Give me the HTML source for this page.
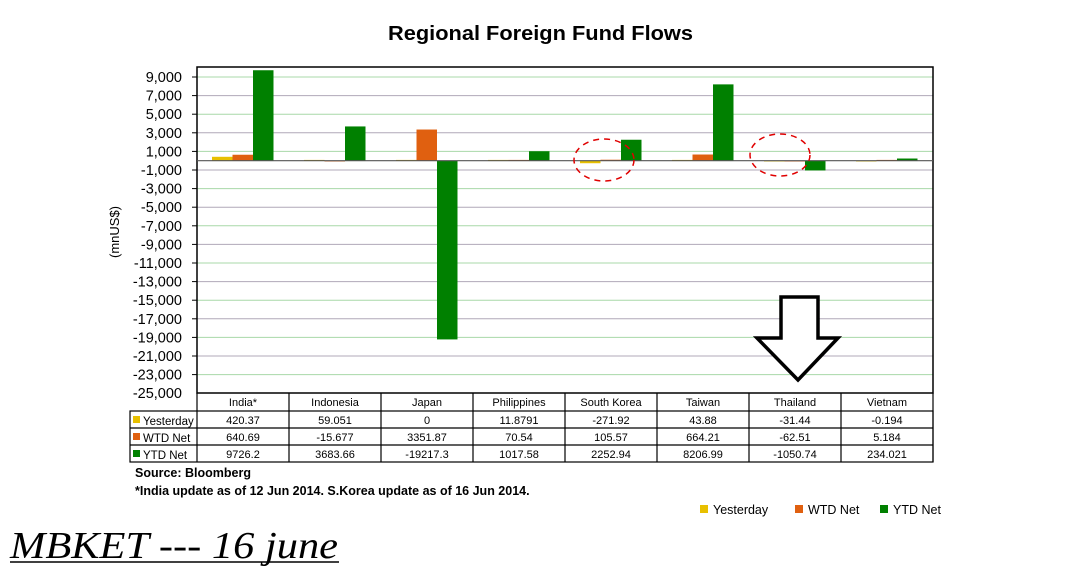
<!DOCTYPE html>
<html><head><meta charset="utf-8"><style>
body{margin:0;background:#fff;width:1078px;height:571px;overflow:hidden;font-family:"Liberation Sans",Arial,sans-serif}
</style></head><body>
<svg id="s" width="1078" height="571" xmlns="http://www.w3.org/2000/svg" font-family="Liberation Sans, Arial, sans-serif">
<text x="388" y="40" font-size="20" font-weight="bold" textLength="305" lengthAdjust="spacingAndGlyphs">Regional Foreign Fund Flows</text>
<g id="grid"></g>
<rect x="197" y="67" width="736" height="326" fill="none" stroke="#000" stroke-width="1.5"/>
<g id="bars"></g>
<line x1="197" y1="160.7" x2="933" y2="160.7" stroke="#555" stroke-width="1.2"/>
<g font-size="14.5" text-anchor="end" fill="#000">
<text x="182" y="82">9,000</text><text x="182" y="100.6">7,000</text><text x="182" y="119.2">5,000</text><text x="182" y="137.8">3,000</text><text x="182" y="156.4">1,000</text><text x="182" y="175">-1,000</text><text x="182" y="193.6">-3,000</text><text x="182" y="212.2">-5,000</text><text x="182" y="230.8">-7,000</text><text x="182" y="249.4">-9,000</text><text x="182" y="268">-11,000</text><text x="182" y="286.6">-13,000</text><text x="182" y="305.2">-15,000</text><text x="182" y="323.8">-17,000</text><text x="182" y="342.4">-19,000</text><text x="182" y="361">-21,000</text><text x="182" y="379.6">-23,000</text><text x="182" y="398.2">-25,000</text>
</g>
<text transform="translate(119,232) rotate(-90)" font-size="13" text-anchor="middle">(mnUS$)</text>
<g stroke="#000" stroke-width="1.2" fill="none">
<rect x="130" y="411" width="803" height="51"/>
<line x1="197" y1="393" x2="197" y2="462"/>
<line x1="130" y1="428" x2="933" y2="428"/><line x1="130" y1="445" x2="933" y2="445"/>
<line x1="289" y1="393" x2="289" y2="462"/><line x1="381" y1="393" x2="381" y2="462"/><line x1="473" y1="393" x2="473" y2="462"/><line x1="565" y1="393" x2="565" y2="462"/><line x1="657" y1="393" x2="657" y2="462"/><line x1="749" y1="393" x2="749" y2="462"/><line x1="841" y1="393" x2="841" y2="462"/><line x1="933" y1="393" x2="933" y2="462"/>
</g>
<g font-size="11" text-anchor="middle">
<text x="243" y="406">India*</text><text x="335" y="406">Indonesia</text><text x="427" y="406">Japan</text><text x="519" y="406">Philippines</text><text x="611" y="406">South Korea</text><text x="703" y="406">Taiwan</text><text x="795" y="406">Thailand</text><text x="887" y="406">Vietnam</text>
<text x="243" y="424">420.37</text><text x="335" y="424">59.051</text><text x="427" y="424">0</text><text x="519" y="424">11.8791</text><text x="611" y="424">-271.92</text><text x="703" y="424">43.88</text><text x="795" y="424">-31.44</text><text x="887" y="424">-0.194</text>
<text x="243" y="441">640.69</text><text x="335" y="441">-15.677</text><text x="427" y="441">3351.87</text><text x="519" y="441">70.54</text><text x="611" y="441">105.57</text><text x="703" y="441">664.21</text><text x="795" y="441">-62.51</text><text x="887" y="441">5.184</text>
<text x="243" y="458">9726.2</text><text x="335" y="458">3683.66</text><text x="427" y="458">-19217.3</text><text x="519" y="458">1017.58</text><text x="611" y="458">2252.94</text><text x="703" y="458">8206.99</text><text x="795" y="458">-1050.74</text><text x="887" y="458">234.021</text>
</g>
<g font-size="11.5">
<rect x="133" y="416" width="7" height="7" fill="#e8c000"/><text x="143" y="425">Yesterday</text>
<rect x="133" y="433" width="7" height="7" fill="#e06010"/><text x="143" y="442">WTD Net</text>
<rect x="133" y="450" width="7" height="7" fill="#008000"/><text x="143" y="459">YTD Net</text>
</g>
<text x="135" y="477" font-size="12.5" font-weight="bold">Source: Bloomberg</text>
<text x="135" y="495" font-size="12.5" font-weight="bold">*India update as of 12 Jun 2014. S.Korea update as of 16 Jun 2014.</text>
<g font-size="12.5">
<rect x="700" y="505" width="8" height="8" fill="#e8c000"/><text x="713" y="514">Yesterday</text>
<rect x="795" y="505" width="8" height="8" fill="#e06010"/><text x="808" y="514">WTD Net</text>
<rect x="880" y="505" width="8" height="8" fill="#008000"/><text x="893" y="514">YTD Net</text>
</g>
<ellipse cx="604" cy="160" rx="30" ry="21" fill="none" stroke="#e00000" stroke-width="1.5" stroke-dasharray="6,5"/>
<ellipse cx="780" cy="155" rx="30" ry="21" fill="none" stroke="#e00000" stroke-width="1.5" stroke-dasharray="6,5"/>
<polygon points="781,297 818,297 818,338 838,338 798,380 757,338 781,338" fill="#fff" stroke="#000" stroke-width="3.5"/>
<text x="10" y="558" font-family="Liberation Serif, serif" font-style="italic" font-size="38" textLength="328" lengthAdjust="spacingAndGlyphs">MBKET --- 16 june</text>
<line x1="10" y1="562" x2="339" y2="562" stroke="#000" stroke-width="1.5"/>
</svg>
<script>
var ns="http://www.w3.org/2000/svg",y0=160.7,k=0.0093;
var g=document.getElementById("grid");
for(var i=0;i<17;i++){var y=77+i*18.6;var l=document.createElementNS(ns,"line");l.setAttribute("x1",197);l.setAttribute("x2",933);l.setAttribute("y1",y);l.setAttribute("y2",y);l.setAttribute("stroke",i%2?"#b0a8b8":"#a8d8a8");l.setAttribute("stroke-width",1);g.appendChild(l);
var t=document.createElementNS(ns,"line");t.setAttribute("x1",192);t.setAttribute("x2",197);t.setAttribute("y1",y);t.setAttribute("y2",y);t.setAttribute("stroke","#000");g.appendChild(t);}
var d=[[420.37,640.69,9726.2],[59.051,-15.677,3683.66],[0,3351.87,-19217.3],[11.8791,70.54,1017.58],[-271.92,105.57,2252.94],[43.88,664.21,8206.99],[-31.44,-62.51,-1050.74],[-0.194,5.184,234.021]];
var c=["#e8c000","#e06010","#008000"],b=document.getElementById("bars");
d.forEach(function(r,i){r.forEach(function(v,j){var h=Math.max(Math.abs(v)*k,0.8);var x=197+i*92+15+j*20.5;var rr=document.createElementNS(ns,"rect");rr.setAttribute("x",x);rr.setAttribute("width",20.5);rr.setAttribute("y",v>=0?y0-h:y0);rr.setAttribute("height",h);rr.setAttribute("fill",c[j]);b.appendChild(rr);});});
</script>
</body></html>
